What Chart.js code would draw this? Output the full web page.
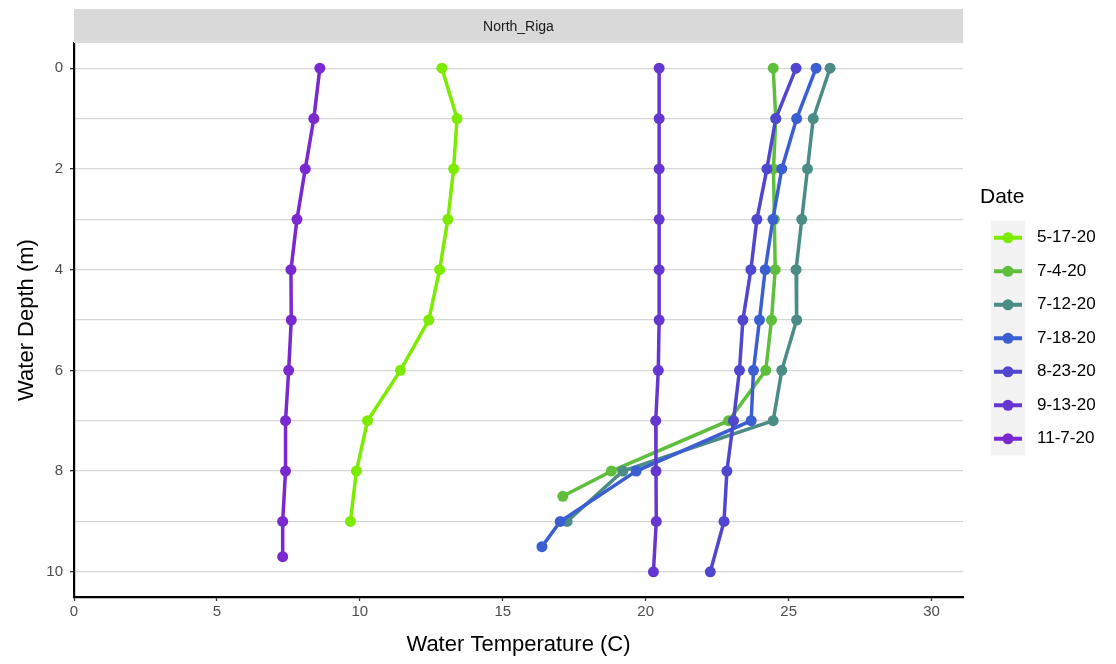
<!DOCTYPE html>
<html>
<head>
<meta charset="utf-8">
<script src="https://cdn.jsdelivr.net/npm/chart.js@4.4.1/dist/chart.umd.min.js"></script>
<style>
  html, body { margin: 0; padding: 0; background: #fff; }
  #wrap { width: 1116px; height: 664px; }
</style>
</head>
<body>
<div id="wrap"><canvas id="chart" width="1116" height="664"></canvas></div>
<script>
// Dados (temperatura em C, profundidade em m)
const dateLabels = ['5-17-20', '7-4-20', '7-12-20', '7-18-20', '8-23-20', '9-13-20', '11-7-20'];
const lineColors = ['#7CEB00', '#5FBF3C', '#4B8C86', '#3B5FD2', '#5146CF', '#6637D0', '#7A28D0'];

const depth_5_17 = [0, 1, 2, 3, 4, 5, 6, 7, 8, 9];
const temp_5_17  = [12.87, 13.4, 13.28, 13.08, 12.79, 12.41, 11.42, 10.27, 9.88, 9.67];

const depth_7_4 = [0, 1, 2, 3, 4, 5, 6, 7, 8, 8.5];
const temp_7_4  = [24.46, 24.55, 24.47, 24.5, 24.53, 24.4, 24.2, 22.9, 18.8, 17.1];

const depth_7_12 = [0, 1, 2, 3, 4, 5, 6, 7, 8, 9];
const temp_7_12  = [26.45, 25.86, 25.66, 25.46, 25.26, 25.28, 24.76, 24.46, 19.2, 17.25];

const depth_7_18 = [0, 1, 2, 3, 4, 5, 6, 7, 8, 9, 9.5];
const temp_7_18  = [25.96, 25.28, 24.76, 24.45, 24.18, 23.98, 23.77, 23.69, 19.67, 17.01, 16.37];

const depth_8_23 = [0, 1, 2, 3, 4, 5, 6, 7, 8, 9, 10];
const temp_8_23  = [25.26, 24.55, 24.24, 23.89, 23.68, 23.4, 23.28, 23.07, 22.84, 22.74, 22.26];

const depth_9_13 = [0, 1, 2, 3, 4, 5, 6, 7, 8, 9, 10];
const temp_9_13  = [20.47, 20.47, 20.47, 20.47, 20.47, 20.47, 20.44, 20.35, 20.36, 20.37, 20.27];

const depth_11_7 = [0, 1, 2, 3, 4, 5, 6, 7, 8, 9, 9.7];
const temp_11_7  = [8.6, 8.39, 8.09, 7.8, 7.59, 7.6, 7.51, 7.4, 7.4, 7.3, 7.3];

const xTicks = [0, 5, 10, 15, 20, 25, 30];
const yGrid  = [0, 1, 2, 3, 4, 5, 6, 7, 8, 9, 10];
const yTickLabels = [0, 2, 4, 6, 8, 10];
const stripLabel = 'North_Riga';

const seriesTemps  = [temp_5_17, temp_7_4, temp_7_12, temp_7_18, temp_8_23, temp_9_13, temp_11_7];
const seriesDepths = [depth_5_17, depth_7_4, depth_7_12, depth_7_18, depth_8_23, depth_9_13, depth_11_7];

const FONT = "'Liberation Sans', Arial, sans-serif";

const datasets = dateLabels.map((label, i) => ({
  label,
  data: seriesTemps[i].map((t, k) => ({ x: t, y: seriesDepths[i][k] })),
  borderColor: lineColors[i],
  backgroundColor: lineColors[i],
  borderWidth: 3.5,
  pointRadius: 5.5,
  pointHoverRadius: 5.5,
  pointBorderWidth: 0,
  tension: 0,
  order: dateLabels.length - i
}));

// faixa cinza do facet
const stripPlugin = {
  id: 'strip',
  afterDraw(chart) {
    const { ctx, chartArea } = chart;
    ctx.save();
    ctx.fillStyle = '#D9D9D9';
    ctx.fillRect(chartArea.left, 9, chartArea.right - chartArea.left, chartArea.top - 9);
    ctx.fillStyle = '#1A1A1A';
    ctx.font = `14px ${FONT}`;
    ctx.textAlign = 'center';
    ctx.textBaseline = 'middle';
    ctx.fillText(stripLabel, (chartArea.left + chartArea.right) / 2, (chartArea.top + 9) / 2 + 1);
    ctx.restore();
  }
};

// legenda no estilo ggplot
const legendPlugin = {
  id: 'ggLegend',
  afterDraw(chart) {
    const { ctx } = chart;
    const keyX = 991, keyW = 34, rowH = 33.5, firstY = 221;
    ctx.save();
    ctx.fillStyle = '#000';
    ctx.font = `21px ${FONT}`;
    ctx.textAlign = 'left';
    ctx.textBaseline = 'middle';
    ctx.fillText('Date', 980, 197);
    ctx.fillStyle = '#F2F2F2';
    ctx.fillRect(keyX, firstY, keyW, rowH * dateLabels.length);
    dateLabels.forEach((label, i) => {
      const cy = firstY + rowH * (i + 0.5);
      ctx.strokeStyle = lineColors[i];
      ctx.lineWidth = 4;
      ctx.beginPath();
      ctx.moveTo(keyX + 3, cy);
      ctx.lineTo(keyX + keyW - 3, cy);
      ctx.stroke();
      ctx.fillStyle = lineColors[i];
      ctx.beginPath();
      ctx.arc(keyX + keyW / 2, cy, 5.5, 0, Math.PI * 2);
      ctx.fill();
      ctx.fillStyle = '#000';
      ctx.font = `17px ${FONT}`;
      ctx.fillText(label, 1037, cy);
    });
    ctx.restore();
  }
};

new Chart(document.getElementById('chart'), {
  type: 'line',
  data: { datasets },
  plugins: [stripPlugin, legendPlugin],
  options: {
    responsive: false,
    animation: false,
    layout: { padding: { top: 43, right: 153, left: 0, bottom: 0 } },
    plugins: { legend: { display: false }, tooltip: { enabled: false } },
    scales: {
      x: {
        type: 'linear',
        min: 0,
        max: 31.1,
        afterBuildTicks: s => { s.ticks = xTicks.map(v => ({ value: v })); },
        afterFit: s => { s.height = 67; },
        grid: { drawOnChartArea: false, drawTicks: true, tickLength: 4, tickColor: '#333', tickWidth: 1.3 },
        border: { color: '#000', width: 2.2 },
        ticks: { color: '#4D4D4D', font: { family: FONT, size: 15 }, padding: 2, maxRotation: 0 },
        title: { display: true, text: 'Water Temperature (C)', color: '#000', font: { family: FONT, size: 22 }, padding: { top: 0, bottom: 6 } }
      },
      y: {
        type: 'linear',
        reverse: true,
        min: -0.5,
        max: 10.5,
        afterBuildTicks: s => { s.ticks = yGrid.map(v => ({ value: v })); },
        afterFit: s => { s.width = 74; },
        grid: {
          color: '#D6D6D6',
          lineWidth: 1.3,
          tickLength: 4,
          tickWidth: 1.3,
          tickColor: ctx => yTickLabels.includes(ctx.tick.value) ? '#333' : 'rgba(0,0,0,0)'
        },
        border: { color: '#000', width: 2.2 },
        ticks: {
          color: '#4D4D4D',
          font: { family: FONT, size: 15 },
          padding: 7,
          callback: v => yTickLabels.includes(v) ? String(v) : ''
        },
        title: { display: true, text: 'Water Depth (m)', color: '#000', font: { family: FONT, size: 22 }, padding: { top: 14, bottom: 0 } }
      }
    }
  }
});
</script>
</body>
</html>
